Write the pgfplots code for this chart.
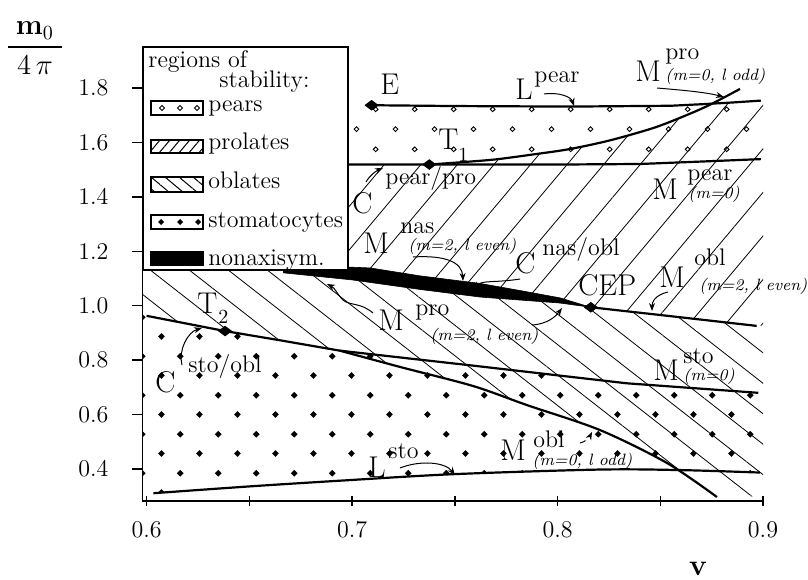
\documentclass[border=0pt]{standalone}
\usepackage{amsmath}
\usepackage{pgfplots}
\pgfplotsset{compat=1.18}
\usetikzlibrary{patterns,patterns.meta,arrows.meta}

% stomatocytes: small filled diamonds on a staggered grid
\pgfdeclarepatternformonly{stodots}{\pgfqpoint{0pt}{0pt}}{\pgfqpoint{19.15pt}{19.3pt}}{\pgfqpoint{19.15pt}{19.3pt}}{%
  \pgfpathmoveto{\pgfqpoint{3.1pt}{4.8pt}}\pgfpathlineto{\pgfqpoint{4.8pt}{6.5pt}}%
  \pgfpathlineto{\pgfqpoint{6.5pt}{4.8pt}}\pgfpathlineto{\pgfqpoint{4.8pt}{3.1pt}}\pgfpathclose
  \pgfpathmoveto{\pgfqpoint{12.67pt}{14.45pt}}\pgfpathlineto{\pgfqpoint{14.37pt}{16.15pt}}%
  \pgfpathlineto{\pgfqpoint{16.07pt}{14.45pt}}\pgfpathlineto{\pgfqpoint{14.37pt}{12.75pt}}\pgfpathclose
  \pgfusepath{fill}}
% pears: small open diamonds
\pgfdeclarepatternformonly{peardots}{\pgfqpoint{0pt}{0pt}}{\pgfqpoint{19.3pt}{20pt}}{\pgfqpoint{19.3pt}{20pt}}{%
  \pgfsetlinewidth{0.45pt}%
  \pgfpathmoveto{\pgfqpoint{3.6pt}{5pt}}\pgfpathlineto{\pgfqpoint{4.8pt}{6.2pt}}%
  \pgfpathlineto{\pgfqpoint{6pt}{5pt}}\pgfpathlineto{\pgfqpoint{4.8pt}{3.8pt}}\pgfpathclose
  \pgfpathmoveto{\pgfqpoint{13.25pt}{15pt}}\pgfpathlineto{\pgfqpoint{14.45pt}{16.2pt}}%
  \pgfpathlineto{\pgfqpoint{15.65pt}{15pt}}\pgfpathlineto{\pgfqpoint{14.45pt}{13.8pt}}\pgfpathclose
  \pgfusepath{stroke}}

\newcommand\bigf{\fontsize{15}{18}\selectfont}
\newcommand\supf{\fontsize{12}{14}\selectfont}
\newcommand\subf{\fontsize{8.2}{10}\selectfont\itshape}
\newcommand\lgf{\fontsize{12}{14}\selectfont}

\begin{document}
\begin{tikzpicture}
\path[use as bounding box] (-71.25pt,-39pt) rectangle (332.75pt,250.5pt);
\begin{axis}[
  at={(0pt,0pt)}, anchor=south west,
  scale only axis, width=310.25pt, height=227pt,
  xmin=0.598, xmax=0.9, ymin=0.2824, ymax=1.951,
  axis lines*=left,
  axis line style={line width=0.8pt},
  clip=false,
  xtick={0.6,0.7,0.8,0.9},
  minor xtick={0.65,0.75,0.85},
  ytick={0.4,0.6,0.8,1.0,1.2,1.4,1.6,1.8},
  tick align=outside,
  major tick length=5pt, minor tick length=5pt,
  every tick/.style={line width=0.7pt, black},
  xtick style={yshift=2.5pt},
  tick label style={font=\fontsize{12}{14}\selectfont},
  xticklabel style={yshift=-2pt, /pgf/number format/fixed,
    /pgf/number format/fixed zerofill, /pgf/number format/precision=1},
  yticklabel style={xshift=-8.5pt, /pgf/number format/fixed,
    /pgf/number format/fixed zerofill, /pgf/number format/precision=1},
]
% pears (open diamonds)
\addplot[draw=none, pattern=peardots] coordinates {
  (0.698,1.519) (0.80,1.519) (0.84,1.521) (0.87,1.530) (0.9,1.539)
  (0.9,1.754) (0.885,1.747) (0.871,1.741) (0.855,1.735) (0.806,1.732)
  (0.75,1.734) (0.7095,1.737) (0.698,1.737)};
% stomatocytes (filled diamonds)
\addplot[draw=none, pattern=stodots] coordinates {
  (0.598,0.966) (0.6382,0.907) (0.665,0.873) (0.694,0.835) (0.7234,0.81)
  (0.76,0.779) (0.8337,0.715) (0.8977,0.68) (0.9,0.68) (0.9,0.387)
  (0.8985,0.387) (0.86,0.396) (0.8207,0.398) (0.7493,0.381) (0.694,0.357)
  (0.65,0.336) (0.6033,0.311) (0.598,0.311)};
% prolates
\addplot[draw=none, pattern={Lines[angle=50,distance=14pt,line width=0.4pt]}] coordinates {
  (0.698,1.519) (0.7376,1.519) (0.754,1.528) (0.770,1.538) (0.788,1.556)
  (0.806,1.576) (0.8256,1.608) (0.8367,1.632) (0.8465,1.653) (0.861,1.695)
  (0.873,1.738) (0.885,1.747) (0.9,1.754) (0.9,0.926) (0.85,0.965)
  (0.8162,0.9944) (0.8012,1.010) (0.7817,1.021) (0.7623,1.032) (0.733,1.06)
  (0.70,1.095) (0.6665,1.121) (0.6665,1.519)};
% oblates
\addplot[draw=none, pattern={Lines[angle=-38,distance=12pt,line width=0.4pt]}] coordinates {
  (0.598,1.1316) (0.6665,1.1316) (0.699,1.142) (0.7088,1.139) (0.733,1.11)
  (0.7623,1.082) (0.7817,1.056) (0.8012,1.029) (0.8162,0.9944) (0.85,0.965)
  (0.8969,0.926) (0.9,0.926) (0.9,0.30) (0.8776,0.297) (0.8533,0.422)
  (0.8207,0.543) (0.7851,0.635) (0.7589,0.705) (0.7234,0.775) (0.694,0.835)
  (0.665,0.873) (0.6382,0.907) (0.598,0.966)};
% nonaxisymmetric shapes
\addplot[fill=black, draw=black, line width=0.3pt] coordinates {
  (0.6665,1.132) (0.699,1.142) (0.7088,1.139) (0.733,1.11) (0.7623,1.082)
  (0.7817,1.056) (0.8012,1.029) (0.8162,0.9944) (0.8012,1.010) (0.7817,1.021)
  (0.7623,1.032) (0.733,1.06) (0.70,1.095) (0.6665,1.121)};

% transition lines
\addplot[line width=1.1pt] coordinates {
  (0.7095,1.737) (0.75,1.734) (0.806,1.732) (0.855,1.735) (0.871,1.741)
  (0.885,1.747) (0.899,1.754)};
\addplot[line width=1.1pt] coordinates {
  (0.698,1.519) (0.80,1.519) (0.84,1.521) (0.87,1.530) (0.899,1.539)};
\addplot[line width=1.1pt, smooth] coordinates {
  (0.7376,1.519) (0.754,1.528) (0.770,1.538) (0.788,1.556) (0.806,1.576)
  (0.8256,1.608) (0.8465,1.653) (0.861,1.695) (0.874,1.738) (0.8888,1.797)};
\addplot[line width=1.1pt] coordinates {
  (0.8162,0.9944) (0.85,0.966) (0.8969,0.926)};
\addplot[line width=1.1pt] coordinates {
  (0.6,0.963) (0.6382,0.907) (0.665,0.873) (0.694,0.835) (0.7234,0.81)
  (0.76,0.779) (0.8337,0.715) (0.8977,0.68)};
\addplot[line width=1.1pt, smooth] coordinates {
  (0.694,0.835) (0.7234,0.775) (0.7589,0.705) (0.7851,0.635) (0.8207,0.543)
  (0.8533,0.422) (0.8776,0.297)};
\addplot[line width=1.1pt, smooth] coordinates {
  (0.6033,0.311) (0.65,0.336) (0.694,0.357) (0.7493,0.381) (0.8207,0.398)
  (0.86,0.396) (0.8985,0.387)};
% E, T1, T2, CEP
\addplot[only marks, mark=diamond*, mark size=3.2pt,
  mark options={rotate=90, fill=black}] coordinates {
  (0.7095,1.737) (0.7376,1.519) (0.6382,0.907) (0.8162,0.9944)};
\end{axis}

% annotations, in pixels of the reference (x right, y down)
\begin{scope}[x=0.5pt, y=-0.5pt, shift={(-71.25pt,250.5pt)},
  every node/.style={inner sep=0pt, anchor=base west},
  arr/.style={-{Stealth[length=4pt,width=3pt]}, line width=0.5pt}]
% legend
\draw[fill=white, line width=0.9pt] (143,47) rectangle (348,270);
\node[font=\lgf] at (148,68) {regions of};
\node[font=\lgf] at (219,88) {stability:};
\draw[line width=1.1pt] (151,101) rectangle (203,115);
\foreach \xx in {162,180,197}
  \draw[line width=0.45pt] (\xx-2.6,108) -- (\xx,105.4) -- (\xx+2.6,108) -- (\xx,110.6) -- cycle;
\draw[line width=1.1pt, pattern={Lines[angle=50,distance=3.8pt,line width=0.5pt]}] (151,140) rectangle (203,153);
\draw[line width=1.1pt, pattern={Lines[angle=-40,distance=4.5pt,line width=0.5pt]}] (151,177) rectangle (203,192);
\draw[line width=1.1pt] (151,215) rectangle (203,229);
\foreach \xx in {161,180,198}
  \fill (\xx-3,222) -- (\xx,219) -- (\xx+3,222) -- (\xx,225) -- cycle;
\draw[line width=1.1pt, fill=black] (151,252) rectangle (203,265);
\node[font=\lgf] at (208,112) {pears};
\node[font=\lgf] at (208,150) {prolates};
\node[font=\lgf] at (208,188) {oblates};
\node[font=\lgf] at (208,227) {stomatocytes};
\node[font=\lgf] at (208,265) {nonaxisym.};

% axis labels
\node[anchor=center, font=\fontsize{14}{16}\selectfont] at (35,48)
  {$\dfrac{\hspace{4pt}\mathbf{m}_0\hspace{4pt}}{4\,\pi}$};
\node[anchor=base, font=\fontsize{15}{18}\selectfont\bfseries] at (698,575) {v};

% labels of points and lines
\node[font=\bigf] at (380,95) {E};
\node[font=\bigf] at (515,100) {L};  \node[font=\supf] at (534,83) {pear};
\node[font=\bigf] at (635,82) {M};   \node[font=\supf] at (665,60) {pro};
\node[font=\subf] at (665,81) {(m=0, l odd)};
\node[font=\bigf] at (438,150) {T}; \node[font=\fontsize{10}{12}\selectfont] at (458,162) {1};
\node[font=\bigf] at (352,213) {C};  \node[font=\supf] at (385,185) {pear/pro};
\node[font=\bigf] at (652,200) {M};  \node[font=\supf] at (687,180) {pear};
\node[font=\subf] at (688,198) {(m=0)};
\node[font=\bigf] at (363,253) {M};  \node[font=\supf] at (400,233) {nas};
\node[font=\subf] at (408,250) {(m=2, l even)};
\node[font=\bigf] at (515,273) {C};  \node[font=\supf] at (542,255) {nas/obl};
\node[font=\bigf] at (578,295) {CEP};
\node[font=\bigf] at (659,287) {M};  \node[font=\supf] at (694,265) {obl};
\node[font=\subf] at (699,290) {(m=2, l even)};
\node[font=\bigf] at (378,330) {M};  \node[font=\supf] at (415,315) {pro};
\node[font=\subf] at (430,340) {(m=2, l even)};
\node[font=\bigf] at (197,313) {T}; \node[font=\fontsize{10}{12}\selectfont] at (218,323) {2};
\node[font=\bigf] at (155,392) {C};  \node[font=\supf] at (188,372) {sto/obl};
\node[font=\bigf] at (653,380) {M};  \node[font=\supf] at (683,363) {sto};
\node[font=\subf] at (683,380) {(m=0)};
\node[font=\bigf] at (368,477) {L};  \node[font=\supf] at (388,458) {sto};
\node[font=\bigf] at (500,460) {M};  \node[font=\supf] at (533,447) {obl};
\node[font=\subf] at (532,465) {(m=0, l odd)};

% arrows
\draw[arr] (544,94) .. controls (560,92) and (571,97) .. (574,106);
\draw[arr] (657,88) .. controls (680,90) and (705,92) .. (724,97);
\draw[arr] (366,182) .. controls (370,175) and (376,171) .. (383,168);
\draw[arr] (413,257) .. controls (445,255) and (462,262) .. (463,281);
\draw[arr] (520,279) .. controls (495,283) and (480,280) .. (476,290);
\draw[arr] (668,292) .. controls (655,295) and (652,302) .. (652,311);
\draw[arr] (532,325) .. controls (548,324) and (556,316) .. (562,308);
\draw[arr] (373,313) .. controls (360,302) and (350,306) .. (343,300)
  .. controls (337,294) and (335,288) .. (327,284);
\draw[arr] (182,365) .. controls (178,350) and (188,332) .. (202,328);
\draw[arr] (400,468) .. controls (420,460) and (445,462) .. (455,475);
\draw[arr, dashed] (580,443) .. controls (585,442) and (589,438) .. (592,432);
\end{scope}
\end{tikzpicture}
\end{document}
